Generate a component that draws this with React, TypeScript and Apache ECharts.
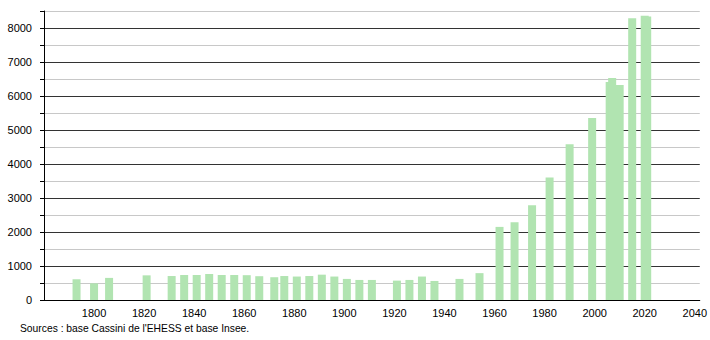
import React, { useEffect, useRef } from "react";
import * as echarts from "echarts";

const years = [
  1793, 1800, 1806, 1821, 1831, 1836, 1841, 1846, 1851, 1856, 1861, 1866, 1872, 1876,
  1881, 1886, 1891, 1896, 1901, 1906, 1911, 1921, 1926, 1931, 1936, 1946, 1954, 1962,
  1968, 1975, 1982, 1990, 1999, 2006, 2007, 2010, 2015, 2020, 2021,
];
const population = [
  610, 490, 650, 725, 705, 735, 735, 765, 735, 735, 730, 700, 670, 705,
  690, 705, 745, 690, 620, 590, 590, 570, 590, 690, 560, 620, 790, 2150,
  2290, 2790, 3600, 4580, 5350, 6410, 6530, 6320, 8290, 8360, 8340,
];
const yLabels = ["0", "1000", "2000", "3000", "4000", "5000", "6000", "7000", "8000"];
const xLabels = ["1800", "1820", "1840", "1860", "1880", "1900", "1920", "1940", "1960", "1980", "2000", "2020", "2040"];
const sourceText = "Sources : base Cassini de l'EHESS et base Insee.";

export default function App() {
  const ref = useRef<HTMLDivElement>(null);
  useEffect(() => {
    if (!ref.current) return;
    const chart = echarts.init(ref.current, undefined, { renderer: "svg" });
    const font = "'Liberation Sans', Arial, sans-serif";
    chart.setOption({
      animation: false,
      grid: { left: 44, right: 10, top: 11, bottom: 40, containLabel: false },
      xAxis: {
        type: "value",
        min: 1780,
        max: 2042,
        interval: 20,
        axisLine: { show: true, lineStyle: { color: "#000", width: 1 } },
        axisTick: { show: false },
        splitLine: { show: false },
        axisLabel: {
          color: "#000",
          fontSize: 11,
          fontFamily: font,
          margin: 7,
          showMaxLabel: false,
          formatter: (v: number) => (xLabels.includes(String(v)) ? String(v) : ""),
        },
      },
      yAxis: {
        type: "value",
        min: 0,
        max: 8500,
        interval: 500,
        axisLine: { show: true, lineStyle: { color: "#000", width: 1 } },
        axisTick: { show: true, length: 4, lineStyle: { color: "#000" } },
        splitLine: { show: true, lineStyle: { color: ["#333333", "#c8c8c8"], width: 1 } },
        axisLabel: {
          color: "#000",
          fontSize: 11,
          fontFamily: font,
          margin: 12,
          formatter: (v: number) => (yLabels.includes(String(v)) ? String(v) : ""),
        },
      },
      series: [
        {
          type: "bar",
          data: years.map((y, i) => [y, population[i]]),
          barWidth: 8,
          itemStyle: { color: "#b1e4b1" },
          silent: true,
        },
      ],
      graphic: [
        {
          type: "text",
          left: 20,
          top: 323,
          style: { text: sourceText, fontSize: 10.3, fontFamily: font, fill: "#000" },
        },
      ],
    });
    return () => chart.dispose();
  }, []);
  return <div ref={ref} style={{ width: 710, height: 340, position: "absolute", left: 0, top: 0 }} />;
}
